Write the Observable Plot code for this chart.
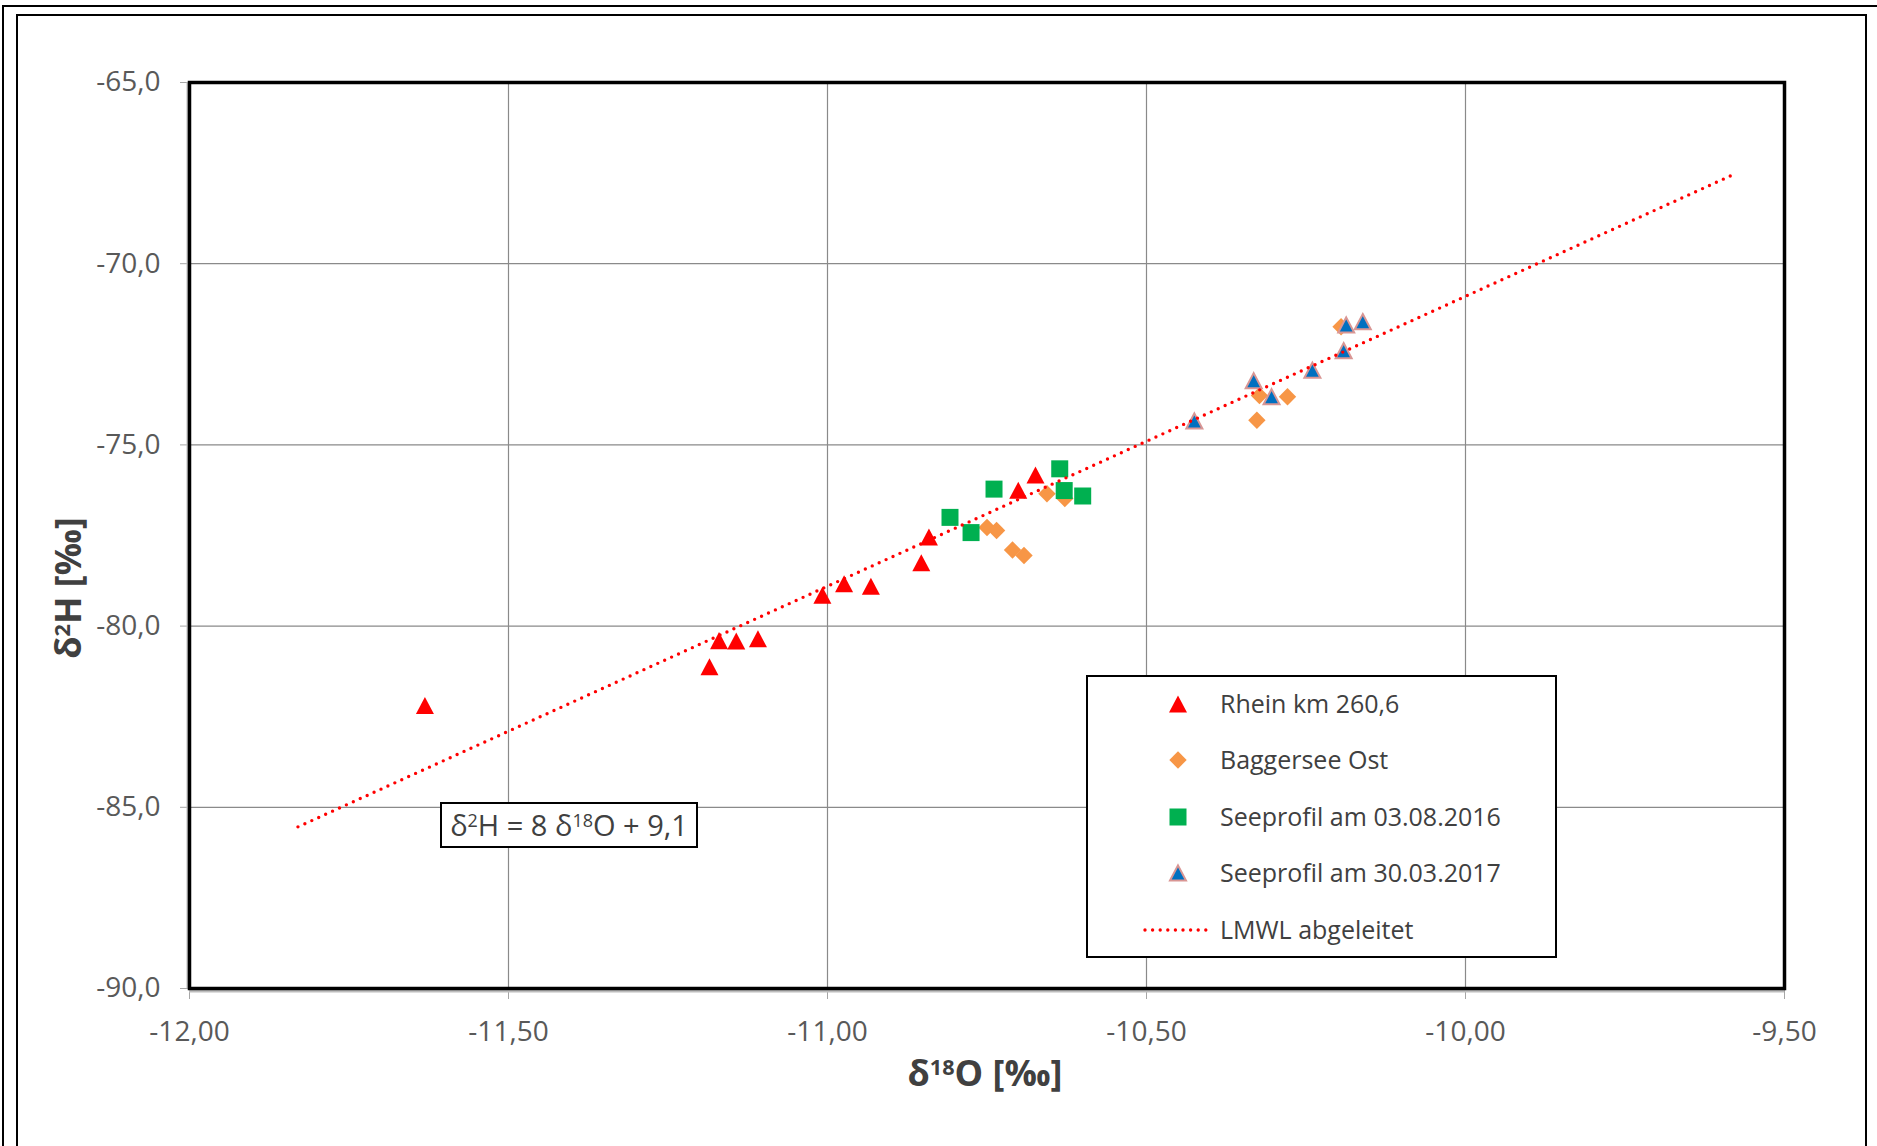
<!DOCTYPE html>
<html>
<head>
<meta charset="utf-8">
<script src="https://cdn.jsdelivr.net/npm/d3@7"></script>
<script src="https://cdn.jsdelivr.net/npm/@observablehq/plot@0.6"></script>
<style>
  html, body { margin: 0; padding: 0; background: #fff; overflow: hidden; width: 1877px; height: 1146px; }
  body { position: relative; font-family: "Open Sans", "Noto Sans", sans-serif; }
  #chart { position: absolute; left: 0; top: 0; }
  .abs { position: absolute; }
  .outer { left: 2px; top: 5px; width: 1900px; height: 1200px; border-left: 2.5px solid #000; border-top: 2.5px solid #000; pointer-events: none; }
  .inner { left: 16px; top: 14px; width: 1851px; height: 1200px; box-sizing: border-box; border: 2.5px solid #000; pointer-events: none; }
  .title { font-weight: 700; font-size: 36px; color: #404040; white-space: nowrap; line-height: 1; }
  .sup { font-size: 0.6em; position: relative; top: -0.5em; }
  #legend { left: 1086px; top: 675px; width: 471px; height: 283px; box-sizing: border-box; border: 2.5px solid #000; background: #fff; }
  .lrow { position: absolute; left: 0; height: 40px; width: 100%; }
  .ltext { position: absolute; left: 132px; top: 50%; transform: translateY(-52%); font-size: 25px; color: #404040; white-space: nowrap; }
  .licon { position: absolute; left: 35px; top: 0; }
  #eq { left: 440px; top: 802px; width: 258px; height: 46px; box-sizing: border-box; border: 2.5px solid #000; background: #fff; font-size: 29px; color: #404040; text-align: center; line-height: 41px; white-space: nowrap; }
  #eq .s { font-size: 0.62em; position: relative; top: -0.48em; }
</style>
</head>
<body>
<div id="chart"></div>
<script>
// ---- Data ----
const xTicks = [-12.0, -11.5, -11.0, -10.5, -10.0, -9.5];
const yTicks = [-90, -85, -80, -75, -70, -65];

const seriesNames = ["Rhein km 260,6", "Baggersee Ost", "Seeprofil am 03.08.2016", "Seeprofil am 30.03.2017", "LMWL abgeleitet"];

const rheinX = [-11.631, -11.185, -11.170, -11.143, -11.109, -11.008, -10.974, -10.932, -10.853, -10.841, -10.701, -10.674];
const rheinY = [-82.19, -81.12, -80.40, -80.41, -80.35, -79.15, -78.83, -78.90, -78.25, -77.54, -76.25, -75.83];

const baggerX = [-10.750, -10.735, -10.710, -10.692, -10.656, -10.628, -10.327, -10.323, -10.279, -10.195];
const baggerY = [-77.28, -77.36, -77.90, -78.05, -76.35, -76.48, -74.32, -73.64, -73.67, -71.74];

const see2016X = [-10.808, -10.775, -10.739, -10.636, -10.629, -10.600];
const see2016Y = [-77.00, -77.42, -76.22, -75.66, -76.26, -76.41];

const see2017X = [-10.425, -10.332, -10.304, -10.240, -10.191, -10.187, -10.161];
const see2017Y = [-74.34, -73.23, -73.67, -72.94, -72.40, -71.69, -71.60];

const lmwlX = [-11.83, -9.58];
const lmwlY = [-85.54, -67.54];

// ---- helpers ----
const zip = (xs, ys) => xs.map((x, i) => ({x, y: ys[i]}));
const rad = size => Math.sqrt(size / Math.PI);
const triSym = {draw(ctx, size) { const r = rad(size); ctx.moveTo(0, -r * 0.95); ctx.lineTo(r, r * 0.95); ctx.lineTo(-r, r * 0.95); ctx.closePath(); }};
const sqSym = {draw(ctx, size) { const r = rad(size); ctx.rect(-r, -r, 2 * r, 2 * r); }};
const diaSym = {draw(ctx, size) { const r = rad(size); ctx.moveTo(0, -r); ctx.lineTo(r, 0); ctx.lineTo(0, r); ctx.lineTo(-r, 0); ctx.closePath(); }};

const fmtX = d => d.toFixed(2).replace(".", ",");
const fmtY = d => d.toFixed(1).replace(".", ",");

const chart = Plot.plot({
  width: 1877,
  height: 1146,
  marginLeft: 189,
  marginRight: 93,
  marginTop: 82,
  marginBottom: 158,
  x: {domain: [-12, -9.5]},
  y: {domain: [-90, -65]},
  style: {fontFamily: "'Open Sans', 'Noto Sans', sans-serif", background: "transparent", overflow: "visible"},
  marks: [
    Plot.gridX(xTicks, {stroke: "#8a8a8a", strokeOpacity: 1, strokeWidth: 1.2}),
    Plot.gridY(yTicks, {stroke: "#8a8a8a", strokeOpacity: 1, strokeWidth: 1.2}),
    Plot.axisX(xTicks, {tickSize: 11, tickPadding: 22, stroke: "#a6a6a6", fill: "#595959", fontSize: 28, tickFormat: fmtX, label: null}),
    Plot.axisY(yTicks, {tickSize: 9, tickPadding: 20, stroke: "#a6a6a6", fill: "#595959", fontSize: 28, tickFormat: fmtY, label: null}),
    Plot.ruleX([-12], {stroke: "#bdbdbd", strokeWidth: 4, dx: -1}),
    Plot.ruleY([-90], {stroke: "#bdbdbd", strokeWidth: 4, dy: 2}),
    Plot.frame({stroke: "#000", strokeWidth: 3.5}),
    Plot.dot(zip(rheinX, rheinY), {x: "x", y: "y", r: 9, symbol: triSym, fill: "#ff0000", stroke: "none"}),
    Plot.dot(zip(baggerX, baggerY), {x: "x", y: "y", r: 8.7, symbol: diaSym, fill: "#f79646", stroke: "none"}),
    Plot.dot(zip(see2016X, see2016Y), {x: "x", y: "y", r: 8.5, symbol: sqSym, fill: "#00b050", stroke: "none"}),
    Plot.dot(zip(see2017X, see2017Y), {x: "x", y: "y", r: 8, symbol: triSym, fill: "#0070c0", stroke: "#d99694", strokeWidth: 2}),
    Plot.line(zip(lmwlX, lmwlY), {x: "x", y: "y", stroke: "#ff0000", strokeWidth: 3.4, strokeDasharray: "0 7.6", strokeLinecap: "round"})
  ]
});
document.getElementById("chart").appendChild(chart);

// ---- Axis titles ----
const xt = document.createElement("div");
xt.className = "abs title";
xt.style.left = "985px"; xt.style.top = "1073px"; xt.style.transform = "translate(-50%, -50%)";
xt.innerHTML = 'δ<span class="sup">18</span>O [‰]';
document.body.appendChild(xt);

const yt = document.createElement("div");
yt.className = "abs title";
yt.style.left = "68px"; yt.style.top = "588px"; yt.style.transform = "translate(-50%, -50%) rotate(-90deg)";
yt.innerHTML = 'δ<span class="sup">2</span>H [‰]';
document.body.appendChild(yt);

// ---- Equation label ----
const eq = document.createElement("div");
eq.id = "eq"; eq.className = "abs";
eq.innerHTML = 'δ<span class="s">2</span>H = 8 δ<span class="s">18</span>O + 9,1';
document.body.appendChild(eq);

// ---- Legend ----
const legend = document.createElement("div");
legend.id = "legend"; legend.className = "abs";
const icons = [
  `<path d="M0,-8.5L9,8.5L-9,8.5Z" fill="#ff0000"/>`,
  `<path d="M0,-8.7L8.7,0L0,8.7L-8.7,0Z" fill="#f79646"/>`,
  `<rect x="-8.5" y="-8.5" width="17" height="17" fill="#00b050"/>`,
  `<path d="M0,-7.6L8,7.6L-8,7.6Z" fill="#0070c0" stroke="#d99694" stroke-width="2"/>`,
  `<line x1="-33" y1="0" x2="33" y2="0" stroke="#ff0000" stroke-width="3.4" stroke-dasharray="0 7.6" stroke-linecap="round"/>`
];
const rowCenters = [27, 83, 140, 196, 253];
seriesNames.forEach((name, i) => {
  const row = document.createElement("div");
  row.className = "lrow";
  row.style.top = (rowCenters[i] - 20) + "px";
  row.innerHTML = `<svg class="licon" width="110" height="40" viewBox="-55 -20 110 40">${icons[i]}</svg><div class="ltext">${name}</div>`;
  legend.appendChild(row);
});
document.body.appendChild(legend);

// ---- Borders ----
const outer = document.createElement("div"); outer.className = "abs outer"; document.body.appendChild(outer);
const inner = document.createElement("div"); inner.className = "abs inner"; document.body.appendChild(inner);
</script>
</body>
</html>
